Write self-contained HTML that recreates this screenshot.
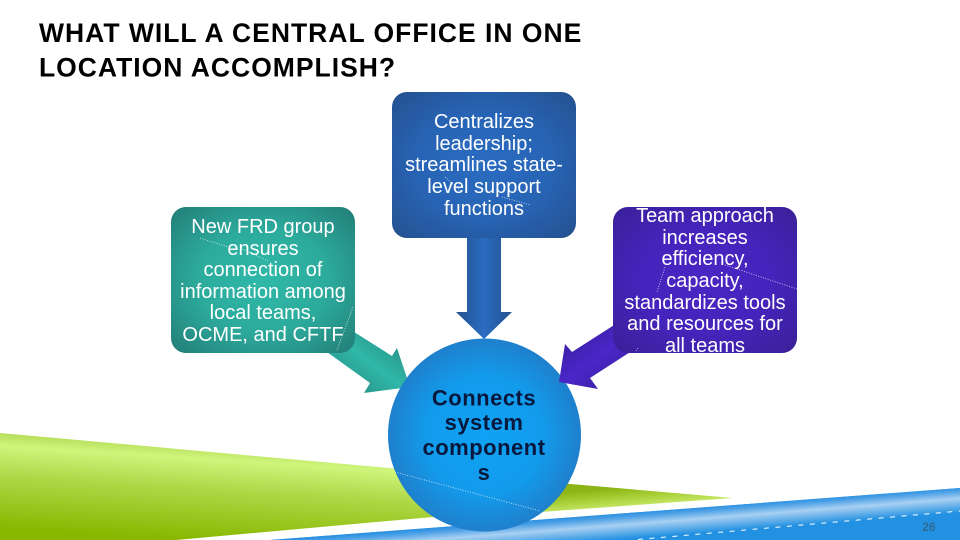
<!DOCTYPE html>
<html><head><meta charset="utf-8"><style>html,body{margin:0;padding:0;background:#fff}svg{display:block}text{font-family:"Liberation Sans",sans-serif}</style></head><body>
<svg xmlns="http://www.w3.org/2000/svg" width="960" height="540" viewBox="0 0 960 540">
<defs>
<linearGradient id="g1" gradientUnits="userSpaceOnUse" x1="200" y1="445" x2="194" y2="540"><stop offset="0" stop-color="#b4dc58"/><stop offset=".14" stop-color="#cff57c"/><stop offset=".45" stop-color="#b0d848"/><stop offset="1" stop-color="#88b800"/></linearGradient>
<linearGradient id="g2" gradientUnits="userSpaceOnUse" x1="610" y1="488" x2="612" y2="512"><stop offset="0" stop-color="#8cb414"/><stop offset=".45" stop-color="#a9d038"/><stop offset="1" stop-color="#d2f078"/></linearGradient>
<linearGradient id="b" gradientUnits="userSpaceOnUse" x1="600" y1="515" x2="602.500" y2="547"><stop offset="0" stop-color="#2a90e0"/><stop offset=".12" stop-color="#4ba0e6"/><stop offset=".36" stop-color="#a8d0f2"/><stop offset=".8" stop-color="#2391e2"/></linearGradient>
<radialGradient id="c"><stop offset="0" stop-color="#10a2f4"/><stop offset=".6" stop-color="#129bec"/><stop offset="1" stop-color="#1f80cc"/></radialGradient>
<radialGradient id="t" cx=".5" cy=".5" r=".7"><stop offset="0" stop-color="#2fb8a8"/><stop offset=".5" stop-color="#2cab9c"/><stop offset="1" stop-color="#237d78"/></radialGradient>
<radialGradient id="u" cx=".5" cy=".5" r=".7"><stop offset="0" stop-color="#2a6cc0"/><stop offset=".5" stop-color="#2864b6"/><stop offset="1" stop-color="#24518f"/></radialGradient>
<radialGradient id="p" cx=".5" cy=".5" r=".7"><stop offset="0" stop-color="#4a26c4"/><stop offset=".5" stop-color="#4424bc"/><stop offset="1" stop-color="#3a2098"/></radialGradient>
<linearGradient id="ta" gradientUnits="userSpaceOnUse" x1="345" y1="375" x2="375" y2="335"><stop offset="0" stop-color="#2a9c90"/><stop offset=".5" stop-color="#2fb8a8"/><stop offset="1" stop-color="#2a9c90"/></linearGradient>
<linearGradient id="ua" gradientUnits="userSpaceOnUse" x1="456" y1="0" x2="512" y2="0"><stop offset="0" stop-color="#24518f"/><stop offset=".5" stop-color="#2a6cc0"/><stop offset="1" stop-color="#24518f"/></linearGradient>
<linearGradient id="pa" gradientUnits="userSpaceOnUse" x1="585" y1="340" x2="610" y2="375"><stop offset="0" stop-color="#4022b0"/><stop offset=".5" stop-color="#4a26c8"/><stop offset="1" stop-color="#4022b0"/></linearGradient>
</defs>
<rect width="960" height="540" fill="#fff"/>
<text font-size="26.500" font-weight="bold" fill="#000" letter-spacing="1"><tspan x="39" y="42">WHAT WILL A CENTRAL OFFICE IN ONE</tspan><tspan x="39" y="76.500">LOCATION ACCOMPLISH?</tspan></text>
<polygon points="0,433 500,478 500,511 176,540 0,540" fill="url(#g1)"/>
<polygon points="500,478 733,498 500,515" fill="url(#g2)"/>
<polygon points="270,540 960,488 960,540" fill="#2391e2"/>
<polygon points="270,540 960,488 960,515.5 638,540" fill="url(#b)"/>
<line x1="638" y1="539.500" x2="960" y2="511" stroke="#fff" stroke-width="1" stroke-dasharray="5 6.500"/>
<text x="929" y="531" font-size="12" font-weight="bold" fill="#2f6a96" text-anchor="middle">26</text>
<polygon points="343,325 392,356 397,348 410,387 364,393 370,383 320,347" fill="url(#ta)"/>
<polygon points="467,230 501,230 501,312 512,312 484,339 456,312 467,312" fill="url(#ua)"/>
<circle cx="484.500" cy="435" r="96.500" fill="url(#c)"/>
<polygon points="622,320 572,352 565,344 559,382 598,389 590,378 638,347" fill="url(#pa)"/>
<rect x="171" y="207" width="184" height="146" rx="15" fill="url(#t)"/>
<rect x="392" y="92" width="184" height="146" rx="15" fill="url(#u)"/>
<rect x="613" y="207" width="184" height="146" rx="15" fill="url(#p)"/>
<g font-size="20" fill="#fff" text-anchor="middle">
<text x="263" y="233">New FRD group</text><text x="263" y="255">ensures</text><text x="263" y="276">connection of</text><text x="263" y="298">information among</text><text x="263" y="319">local teams,</text><text x="263" y="341">OCME, and CFTF</text>
<text x="484" y="128">Centralizes</text><text x="484" y="150">leadership;</text><text x="484" y="171">streamlines state-</text><text x="484" y="193">level support</text><text x="484" y="215">functions</text>
<text x="705" y="222">Team approach</text><text x="705" y="244">increases</text><text x="705" y="265">efficiency,</text><text x="705" y="287">capacity,</text><text x="705" y="309">standardizes tools</text><text x="705" y="330">and resources for</text><text x="705" y="352">all teams</text>
</g>
<g font-size="22" font-weight="bold" fill="#08183c" text-anchor="middle" letter-spacing=".5">
<text x="484" y="405.500">Connects</text><text x="484" y="430">system</text><text x="484" y="455">component</text><text x="484" y="480">s</text>
</g>
<g fill="none" stroke="#fff" stroke-width=".8" stroke-dasharray="1 1.500" opacity=".8">
<polyline points="200,238 228,247"/><line x1="240" y1="248" x2="268" y2="261"/><line x1="353" y1="307" x2="337" y2="350"/>
<line x1="445" y1="177" x2="462" y2="192"/><line x1="502" y1="197" x2="530" y2="205"/>
<line x1="665" y1="267" x2="657" y2="292"/><line x1="725" y1="265" x2="797" y2="289"/><line x1="638" y1="348" x2="636" y2="351"/>
<line x1="395" y1="472" x2="540" y2="511"/>
</g>
</svg>
</body></html>
